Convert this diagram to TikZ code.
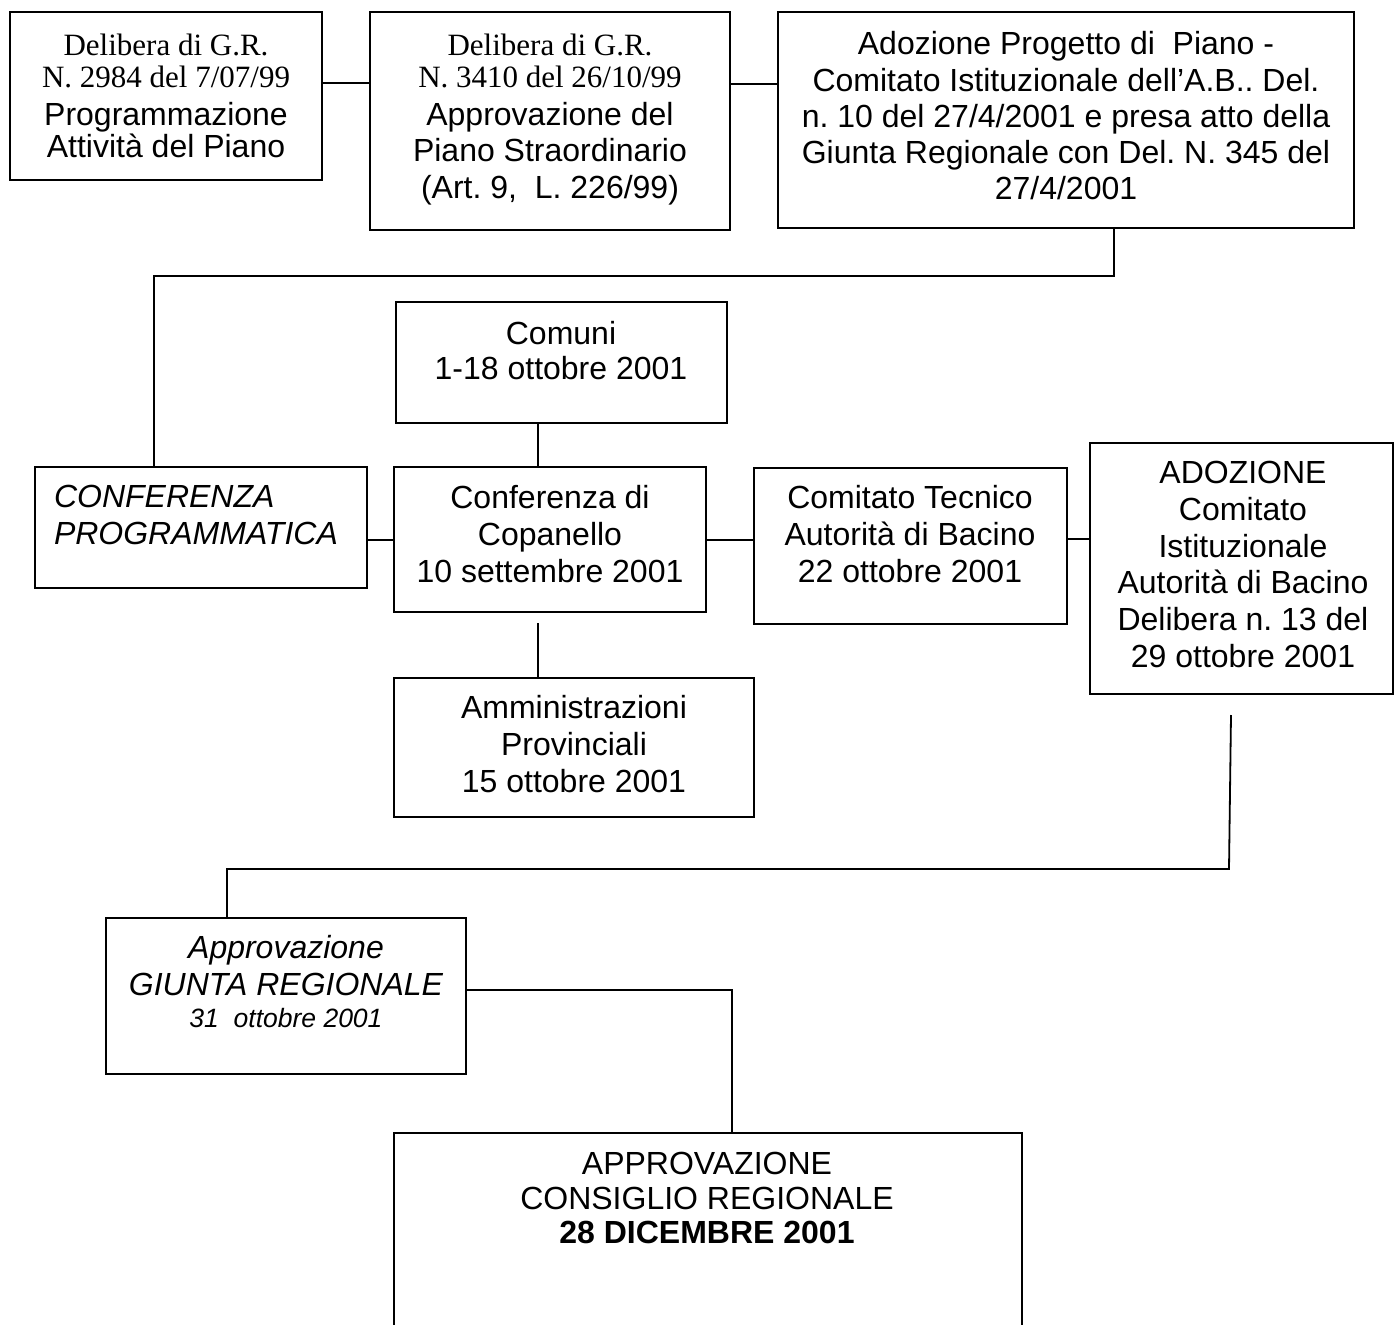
\documentclass[tikz,border=0pt]{standalone}
\usepackage{fontspec}
\setmainfont{Liberation Sans}
\newfontfamily\tnr{Liberation Serif}
\usetikzlibrary{calc}
\frenchspacing
\begin{document}
\begin{tikzpicture}[x=1pt,y=-1pt,
  box/.style={draw, line width=1.8pt, inner sep=0pt, outer sep=0pt, anchor=north west},
  lbl/.style={align=center, inner sep=0pt, outer sep=0pt},
  conn/.style={line width=1.8pt}]
\useasboundingbox (0,0) rectangle (1395,1325);
\clip (0,0) rectangle (1395,1325);
% boxes
\node[box, minimum width=312pt, minimum height=168pt] (b1) at (10,12) {};
\node[box, minimum width=360pt, minimum height=218pt] (b2) at (370,12) {};
\node[box, minimum width=576pt, minimum height=216pt] (b3) at (778,12) {};
\node[box, minimum width=331pt, minimum height=121pt] (com) at (396,302) {};
\node[box, minimum width=332pt, minimum height=121pt] (conf) at (35,467) {};
\node[box, minimum width=312pt, minimum height=145pt] (cop) at (394,467) {};
\node[box, minimum width=313pt, minimum height=156pt] (tec) at (754,468) {};
\node[box, minimum width=303pt, minimum height=251pt] (ado) at (1090,443) {};
\node[box, minimum width=360pt, minimum height=139pt] (amm) at (394,678) {};
\node[box, minimum width=360pt, minimum height=156pt] (giu) at (106,918) {};
\node[box, minimum width=628pt, minimum height=300pt] (cons) at (394,1133) {};
% texts
\node[lbl, font=\fontsize{32}{37}\selectfont] (t1) at (166,95.5)
  {{\tnr\fontsize{31}{37}\selectfont Delibera di G.R.}\\[-5pt]{\tnr\fontsize{31}{37}\selectfont N. 2984 del 7/07/99}\\[1pt]Programmazione\\[-5pt]Attività del Piano};
\node[lbl, font=\fontsize{32}{36.5}\selectfont] (t2) at (550,119.5)
  {{\tnr\fontsize{31}{36.5}\selectfont Delibera di G.R.}\\[-4.5pt]{\tnr\fontsize{31}{36.5}\selectfont N. 3410 del 26/10/99}\\[1.5pt]Approvazione del\\Piano Straordinario\\(Art. 9,\ \ L. 226/99)};
\node[lbl, font=\fontsize{32}{36.25}\selectfont] (t3) at (1066,116)
  {Adozione Progetto di\ \ Piano -\\Comitato Istituzionale dell’A.B.. Del.\\n. 10 del 27/4/2001 e presa atto della\\Giunta Regionale con Del. N. 345 del\\27/4/2001};
\node[lbl, align=left, anchor=west, font=\fontsize{32}{37}\selectfont\itshape] (t4) at (54,515)
  {CONFERENZA\\PROGRAMMATICA};
\node[lbl, font=\fontsize{32}{35}\selectfont] (t5) at (561,351) {Comuni\\1-18 ottobre 2001};
\node[lbl, font=\fontsize{32}{37}\selectfont] (t6) at (550,534.5) {Conferenza di\\Copanello\\10 settembre 2001};
\node[lbl, font=\fontsize{32}{37}\selectfont] (t7) at (910,534.5) {Comitato Tecnico\\Autorità di Bacino\\22 ottobre 2001};
\node[lbl, font=\fontsize{32}{36.8}\selectfont] (t8) at (1243,564.5)
  {ADOZIONE\\Comitato\\Istituzionale\\Autorità di Bacino\\Delibera n. 13 del\\29 ottobre 2001};
\node[lbl, font=\fontsize{32}{37}\selectfont] (t9) at (574,744.5) {Amministrazioni\\Provinciali\\15 ottobre 2001};
\node[lbl, font=\fontsize{32}{37}\selectfont\itshape] (t10) at (286,982)
  {Approvazione\\GIUNTA REGIONALE\\[-5pt]{\fontsize{26.5}{32}\selectfont 31\ \ ottobre 2001}};
\node[lbl, font=\fontsize{32}{34.5}\selectfont] (t11) at (707,1198)
  {APPROVAZIONE\\CONSIGLIO REGIONALE\\\textbf{28 DICEMBRE 2001}};
% connectors
\draw[conn] ($(b1.north east)+(0,71)$) -- ($(b2.north west)+(0,71)$);
\draw[conn] ($(b2.north east)+(0,72)$) -- ($(b3.north west)+(0,72)$);
\draw[conn] ($(b3.south west)+(336,0)$) -- ++(0,48) -| ($(conf.north west)+(119,0)$);
\draw[conn] ($(com.south west)+(142,0)$) -- ($(cop.north west)+(144,0)$);
\draw[conn] ($(conf.north east)+(0,73)$) -- ($(cop.north west)+(0,73)$);
\draw[conn] ($(cop.north east)+(0,73)$) -- ($(tec.north west)+(0,72)$);
\draw[conn] ($(tec.north east)+(0,71)$) -- ($(ado.north west)+(0,96)$);
\draw[conn] ($(cop.south west)+(144,11)$) -- ($(amm.north west)+(144,0)$);
\draw[conn] ($(ado.south west)+(141,21)$) -- ++(-2,154) -| ($(giu.north west)+(121,0)$);
\draw[conn] ($(giu.north east)+(0,72)$) -| ($(cons.north west)+(338,0)$);
\end{tikzpicture}
\end{document}
